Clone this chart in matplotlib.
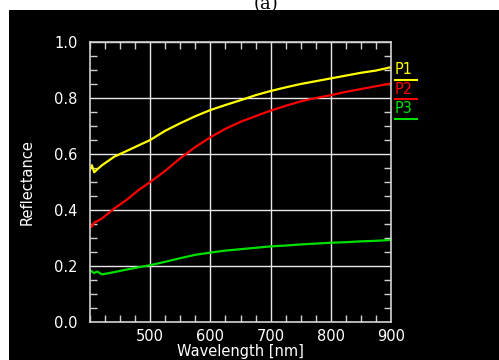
import numpy as np
import matplotlib.pyplot as plt
from matplotlib.patches import Rectangle
from matplotlib.ticker import MultipleLocator

plt.rcParams['font.family'] = 'DejaVu Sans'

# ---------------- data ----------------
wavelength = [400, 403, 407, 412, 420, 440, 460, 480, 500, 525, 550, 575, 600,
              625, 650, 675, 700, 725, 750, 775, 800, 825, 850, 875, 900]
p1 = [0.545, 0.56, 0.535, 0.545, 0.56, 0.59, 0.61, 0.63, 0.65, 0.683, 0.71, 0.735,
      0.757, 0.775, 0.792, 0.81, 0.825, 0.838, 0.85, 0.86, 0.87, 0.88, 0.89, 0.898, 0.91]
p2 = [0.35, 0.34, 0.355, 0.36, 0.37, 0.405, 0.435, 0.47, 0.50, 0.54, 0.585, 0.625,
      0.66, 0.69, 0.715, 0.735, 0.755, 0.772, 0.788, 0.80, 0.81, 0.822, 0.832, 0.842, 0.852]
p3 = [0.185, 0.18, 0.175, 0.18, 0.17, 0.178, 0.187, 0.195, 0.203, 0.215, 0.228, 0.24,
      0.248, 0.255, 0.26, 0.265, 0.27, 0.273, 0.277, 0.28, 0.283, 0.285, 0.288, 0.29, 0.293]

series_names = ['P1', 'P2', 'P3']
series_colors = ['#ffff00', '#ff0000', '#00e000']
xticks = [500, 600, 700, 800, 900]
yticks = [0.0, 0.2, 0.4, 0.6, 0.8, 1.0]

# ---------------- figure ----------------
fig = plt.figure(figsize=(4.99, 3.60), dpi=100)
fig.patch.set_facecolor('white')

# title, mostly hidden by the black panel
fig.text(0.533, 0.99, '(a)', ha='center', va='center', fontsize=13,
         family='DejaVu Serif', color='black', zorder=-2)
fig.patches.append(Rectangle((9 / 499, 0), 1, 1 - 10 / 360, transform=fig.transFigure,
                             facecolor='black', edgecolor='none', zorder=-1))

ax = fig.add_axes([90 / 499, 1 - 322 / 360, 301 / 499, 280 / 360])
ax.set_facecolor('black')

for vals, name, col in zip([p1, p2, p3], series_names, series_colors):
    ax.plot(wavelength, vals, color=col, lw=1.6)

ax.set_xlim(400, 900)
ax.set_ylim(0, 1.0)
ax.set_xticks(xticks)
ax.set_yticks(yticks)
ax.set_yticklabels(['%.1f' % v for v in yticks])
ax.xaxis.set_minor_locator(MultipleLocator(25))
ax.yaxis.set_minor_locator(MultipleLocator(0.05))
ax.grid(True, which='major', color='#e8e8e8', lw=1.0)
ax.tick_params(which='both', direction='in', colors='#d0d0d0', labelcolor='white',
               top=True, right=True, labelsize=10.5)
ax.tick_params(which='minor', length=5, width=1)
ax.tick_params(axis='y', which='major', length=0, pad=9)
ax.tick_params(axis='x', which='major', length=0, pad=5)
for sp in ax.spines.values():
    sp.set_color('#d0d0d0')
    sp.set_linewidth(1.2)

ax.set_xlabel('Wavelength [nm]', color='white', fontsize=10.5, labelpad=0)
ax.set_ylabel('Reflectance', color='white', fontsize=10.5, labelpad=14)

# labels at the right side with underline
label_y = [0.90, 0.832, 0.762]
for name, col, ly in zip(series_names, series_colors, label_y):
    ax.text(906, ly, name, color=col, fontsize=10.5, ha='left', va='center', clip_on=False)
    ax.plot([906, 944], [ly - 0.037, ly - 0.037], color=col, lw=1.5, clip_on=False)

plt.savefig('out.png', dpi=100, facecolor=fig.get_facecolor())
